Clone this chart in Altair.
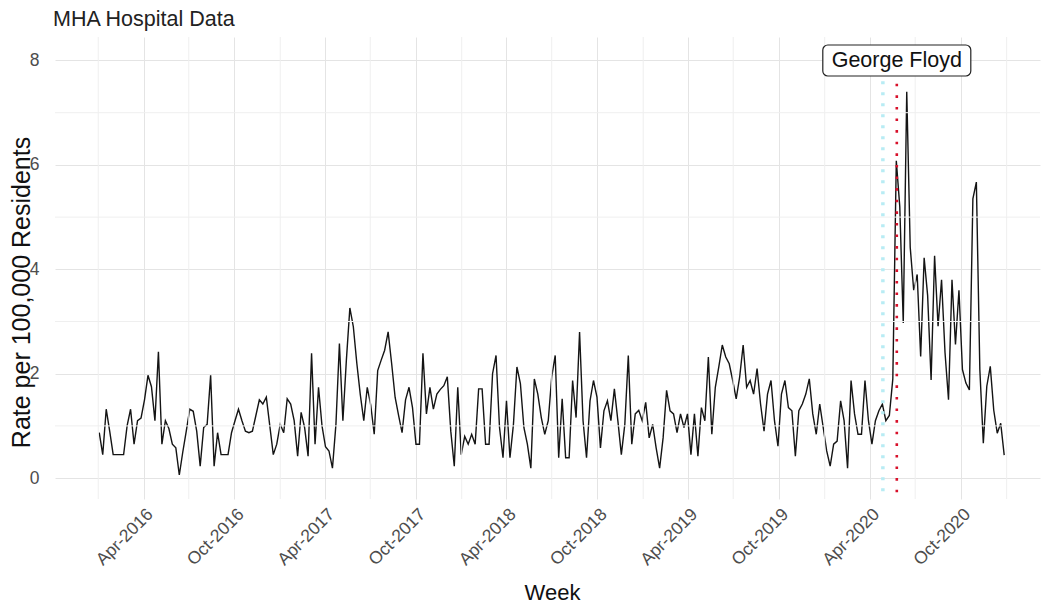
import altair as alt
import pandas as pd

# ---- data (weekly, starting 2016-01-03) ----
week_start = "2016-01-03"
rate = [
    0.87, 0.45, 1.32, 0.9, 0.45, 0.45, 0.45, 0.45, 1.0, 1.32,
    0.65, 1.1, 1.15, 1.5, 1.97, 1.75, 1.1, 2.42, 0.65, 1.1,
    0.95, 0.65, 0.58, 0.06, 0.5, 0.9, 1.32, 1.28, 0.9, 0.23,
    0.97, 1.03, 1.97, 0.23, 0.87, 0.45, 0.45, 0.45, 0.87, 1.1,
    1.32, 1.1, 0.9, 0.87, 0.9, 1.2, 1.5, 1.42, 1.55, 1.0,
    0.45, 0.65, 1.03, 0.87, 1.52, 1.42, 1.1, 0.42, 1.26, 0.97,
    0.42, 2.39, 0.65, 1.74, 1.0, 0.6, 0.52, 0.19, 1.03, 2.58,
    1.1, 2.26, 3.26, 2.9, 2.2, 1.6, 1.1, 1.74, 1.4, 0.84,
    2.06, 2.26, 2.45, 2.8, 2.2, 1.55, 1.2, 0.87, 1.5, 1.74,
    1.35, 0.65, 0.65, 2.39, 1.23, 1.74, 1.32, 1.61, 1.7, 1.77,
    1.94, 0.9, 0.23, 1.74, 0.45, 0.8, 0.65, 0.84, 0.65, 1.71,
    1.71, 0.65, 0.65, 2.0, 2.35, 0.97, 0.39, 1.48, 0.39, 1.03,
    2.13, 1.81, 0.97, 0.65, 0.19, 1.9, 1.61, 1.16, 0.84, 1.1,
    1.94, 2.35, 0.39, 1.52, 0.39, 0.39, 1.87, 1.16, 2.8, 1.1,
    0.39, 1.48, 1.87, 1.55, 0.58, 1.29, 1.48, 1.1, 1.71, 1.1,
    0.45, 1.03, 2.35, 0.65, 1.23, 1.3, 1.1, 1.45, 0.77, 1.03,
    0.58, 0.19, 0.77, 1.68, 1.29, 1.23, 0.87, 1.23, 0.97, 1.23,
    0.45, 1.23, 0.42, 1.35, 1.1, 2.32, 0.84, 1.74, 2.13, 2.55,
    2.32, 2.19, 1.87, 1.52, 1.94, 2.55, 1.74, 1.87, 1.61, 2.1,
    1.42, 0.9, 1.61, 1.87, 1.1, 0.61, 1.61, 1.87, 1.35, 1.29,
    0.42, 1.29, 1.42, 1.61, 1.9, 1.23, 0.84, 1.42, 0.97, 0.52,
    0.23, 0.65, 0.71, 1.48, 1.1, 0.19, 1.87, 1.23, 0.84, 0.84,
    1.87, 1.1, 0.65, 1.1, 1.29, 1.42, 1.1, 1.2, 1.9, 6.08,
    5.2, 2.97, 7.4, 4.42, 3.6, 3.9, 2.33, 4.22, 3.5, 1.88,
    4.26, 2.91, 3.8, 2.4, 1.5, 3.8, 2.56, 3.6, 2.08, 1.82,
    1.69, 5.35, 5.67, 2.08, 0.67, 1.76, 2.14, 1.3, 0.86, 1.05, 0.44,
]
weeks = pd.date_range(week_start, periods=len(rate), freq="7D").strftime("%Y-%m-%d")
df = pd.DataFrame({"week": weeks, "rate": rate})

# axis breaks (major labelled, minor grid only)
major_x = [(2016, 4), (2016, 10), (2017, 4), (2017, 10), (2018, 4), (2018, 10),
           (2019, 4), (2019, 10), (2020, 4), (2020, 10)]
minor_x = ["2016-01-01", "2016-07-01", "2017-01-01", "2017-07-01", "2018-01-01",
           "2018-07-01", "2019-01-01", "2019-07-01", "2020-01-01", "2020-07-01",
           "2021-01-01"]
major_y = [0, 2, 4, 6, 8]
minor_y = [1, 3, 5, 7]

# events
event_date = ["2020-05-25"]
event_label = ["George Floyd"]
label_y = [8]
covid_date = ["2020-04-27"]
covid_top = [7.6]

FONT = "Liberation Sans"

x_scale = alt.Scale(
    type="utc",
    domain=[alt.DateTime(year=2015, month=10, date=6, utc=True),
            alt.DateTime(year=2021, month=3, date=9, utc=True)],
    nice=False,
)
y_scale = alt.Scale(domain=[-0.4, 8.45], nice=False, zero=False)

x_axis = alt.Axis(
    values=[alt.DateTime(year=y, month=m, date=1, utc=True) for y, m in major_x],
    labelExpr="utcFormat(datum.value, '%b-%Y')",
    labelAngle=315, labelAlign="right", labelBaseline="top", labelPadding=6,
    labelFontSize=17.5, labelColor="#4d4d4d", labelFont=FONT,
    labelFlush=False, labelOverlap=False, labelBound=False,
    grid=True, gridColor="#e4e4e4", gridWidth=1,
    domain=False, ticks=False,
    title="Week", titleFont=FONT, titleFontSize=22, titleFontWeight="normal",
    titleColor="#111111", titleX=497, titleY=100, titleBaseline="alphabetic",
    titleAlign="center",
)
y_axis = alt.Axis(
    values=major_y, labelPadding=16, labelFontSize=17.5, labelColor="#4d4d4d",
    labelFont=FONT, grid=True, gridColor="#e4e4e4", gridWidth=1,
    domain=False, ticks=False,
    title="Rate per 100,000 Residents", titleFont=FONT, titleFontSize=25,
    titleFontWeight="normal", titleColor="#111111", titleAngle=270,
    titleX=-34, titleY=255, titleAlign="center", titleBaseline="middle",
)


def X(field):
    return alt.X(field, scale=x_scale, axis=x_axis)


def Y(field):
    return alt.Y(field, scale=y_scale, axis=y_axis)


minor_x_df = pd.DataFrame({"week": minor_x})
minor_y_df = pd.DataFrame({"rate": minor_y})

line = alt.Chart(df).mark_line(color="#141414", strokeWidth=1.4).encode(
    x=X("week:T"), y=Y("rate:Q"))

grid_x = alt.Chart(minor_x_df).mark_rule(color="#efefef", strokeWidth=1).encode(
    x=X("week:T"))
grid_y = alt.Chart(minor_y_df).mark_rule(color="#efefef", strokeWidth=1).encode(
    y=Y("rate:Q"))

covid = alt.Chart(pd.DataFrame({"week": covid_date, "rate": covid_top})).mark_rule(
    color="#b8ecf4", strokeWidth=3.5, strokeDash=[3, 8]).encode(
    x=X("week:T"), y=Y("rate:Q"), y2=alt.datum(-0.4),
)

ev_df = pd.DataFrame({"week": event_date, "label": event_label, "rate": label_y})

vline = alt.Chart(ev_df).mark_rule(color="#d8102a", strokeWidth=2.6,
                                   strokeDash=[2.6, 9]).encode(
    x=X("week:T"), y=Y("rate:Q"), y2=alt.datum(-0.4))

box = alt.Chart(ev_df).mark_rect(width=148, height=31, cornerRadius=5, fill="white",
                                 stroke="#222222", strokeWidth=1.2).encode(
    x=X("week:T"), y=Y("rate:Q"))

txt = alt.Chart(ev_df).mark_text(font=FONT, fontSize=21.5, color="#111111",
                                 align="center", baseline="middle", dy=1).encode(
    x=X("week:T"), y=Y("rate:Q"), text="label:N")

chart = alt.layer(line, grid_x, grid_y, covid, vline, box, txt).properties(
    width=985, height=462,
    background="white",
    autosize=alt.AutoSizeParams(type="none"),
    padding={"left": 47, "top": 29, "right": 2, "bottom": 105},
    title=alt.TitleParams("MHA Hospital Data", anchor="start", frame="group",
                          font=FONT, fontSize=21.5, fontWeight="normal",
                          color="#222222", baseline="bottom", offset=8, dx=-2,
                          dy=24),
).configure_view(stroke=None)

chart.save("out.html", embed_options={"renderer": "svg", "actions": False})
